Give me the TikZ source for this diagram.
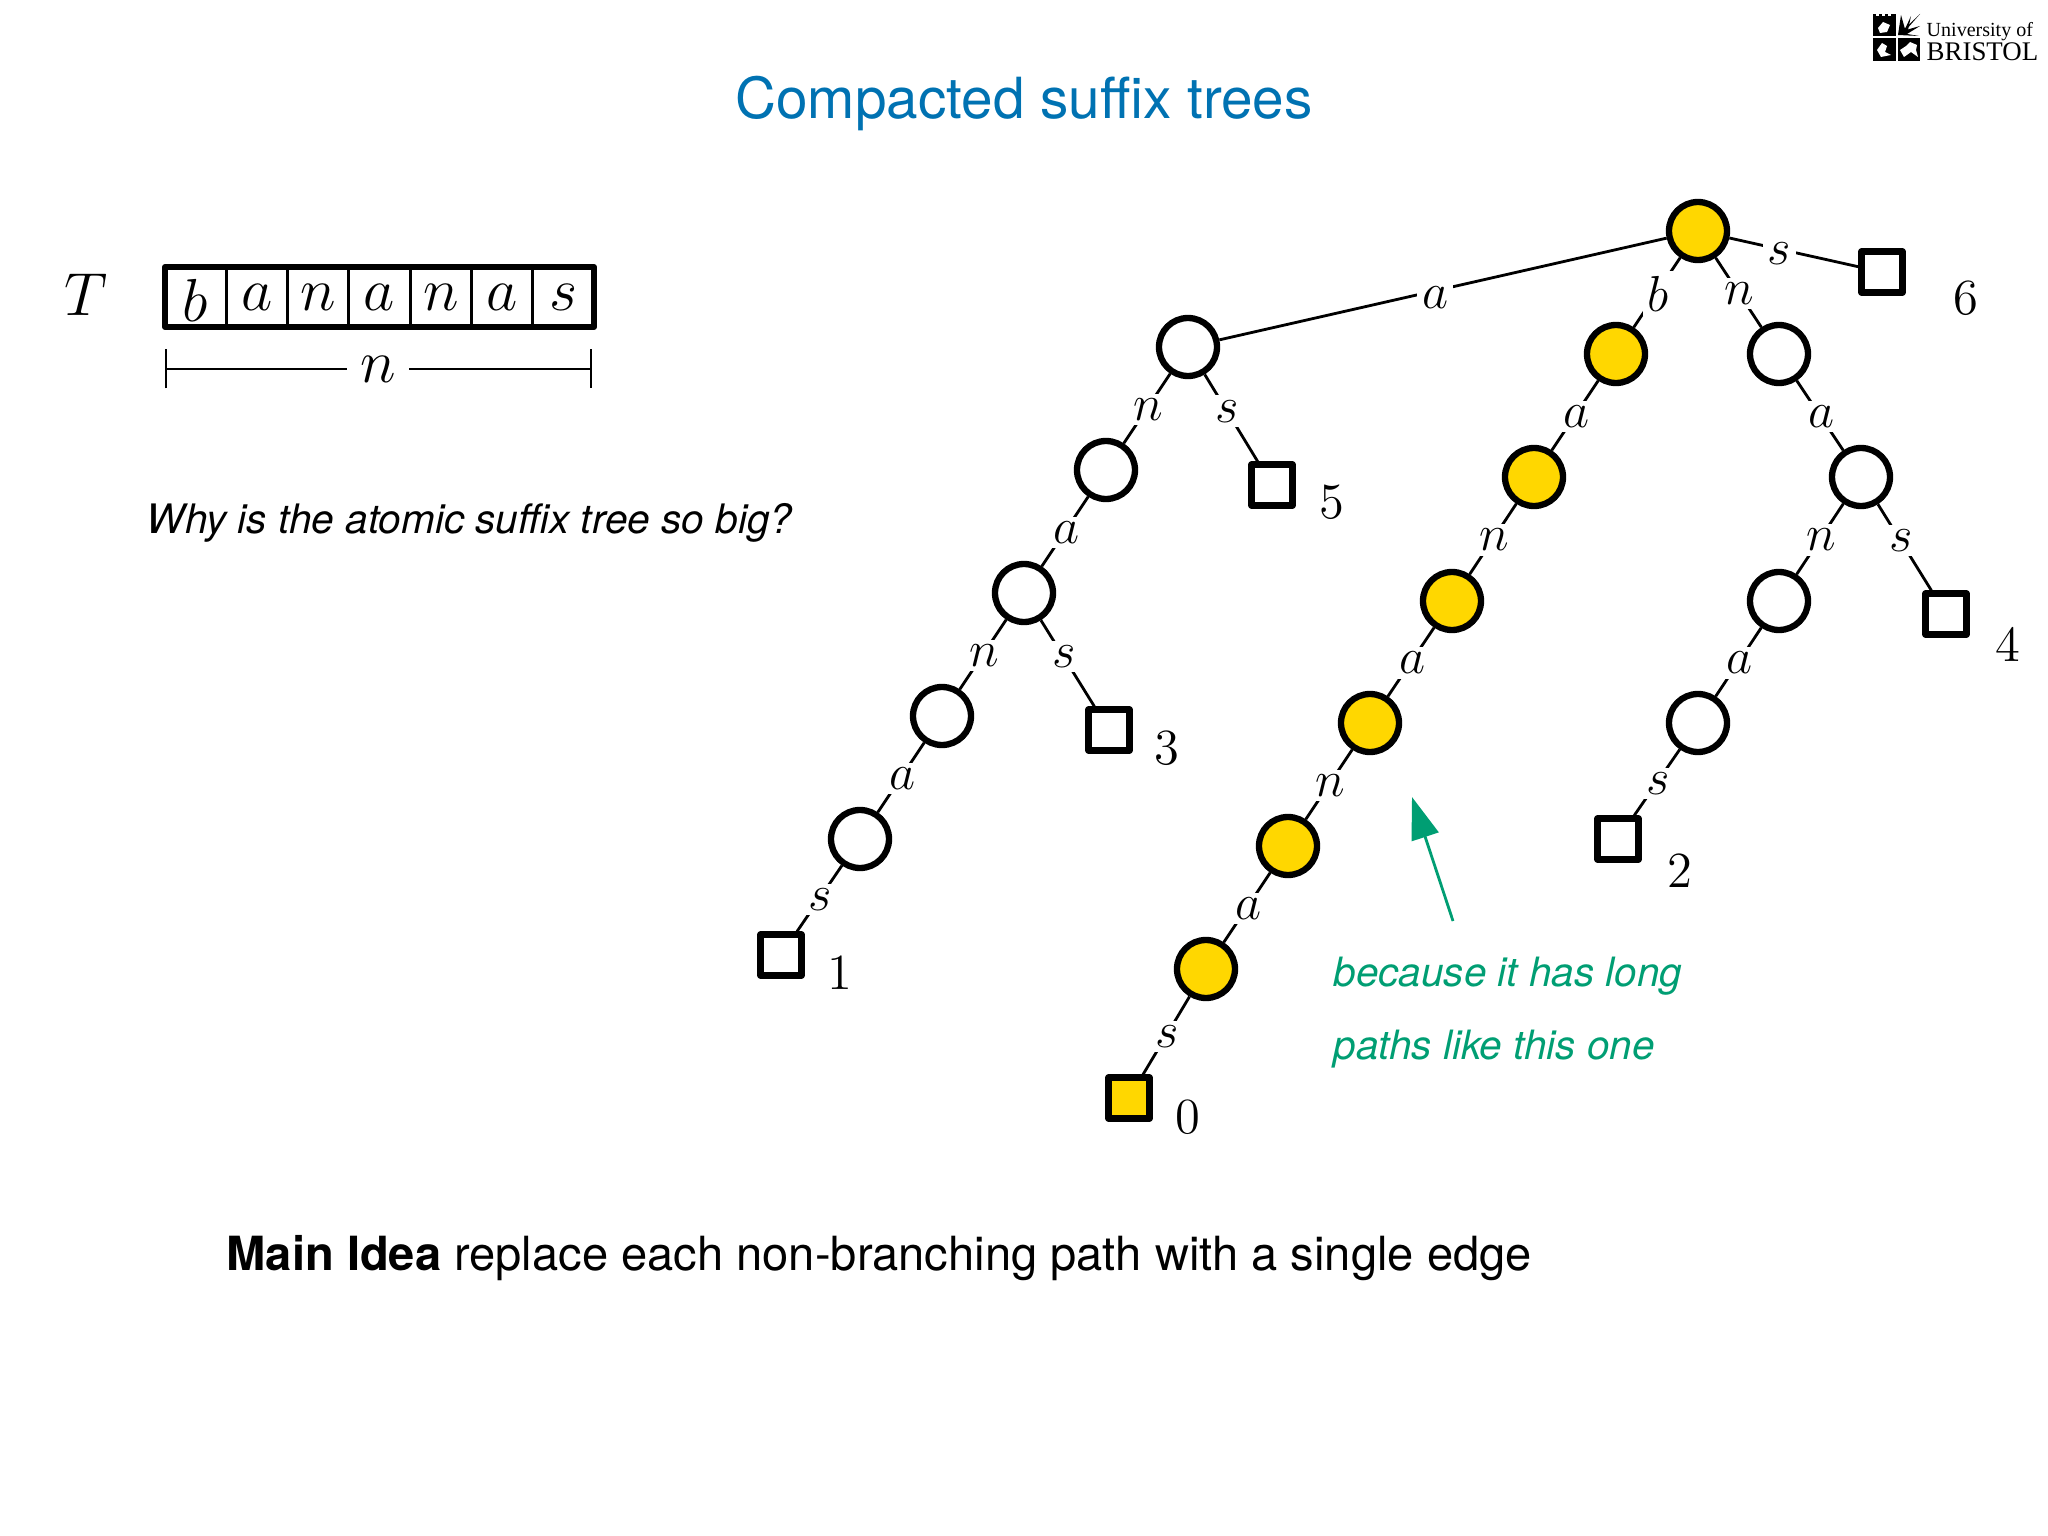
\documentclass[tikz,border=0pt]{standalone}
\usepackage{xcolor}
\usepackage{fontspec}
\setmainfont{TeX Gyre Heros}
\newfontfamily\logofont{Liberation Serif}
\usetikzlibrary{arrows.meta}

\definecolor{titleblue}{RGB}{0,114,178}
\definecolor{notegreen}{RGB}{0,158,115}
\definecolor{pathyellow}{RGB}{255,215,0}

\tikzset{
    inner/.style={circle, draw=black, line width=1.8pt, fill=white, minimum size=0.58cm, inner sep=0pt},
    innerhot/.style={inner, fill=pathyellow},
    leaf/.style={rectangle, draw=black, line width=1.75pt, line join=round, fill=white, minimum size=0.41cm, inner sep=0pt},
    leafhot/.style={leaf, fill=pathyellow},
    edge/.style={line width=0.8pt, black},
    edgelabel/.style={midway, fill=white, inner sep=1.4pt, xshift=0.3pt, yshift=-0.3pt, font=\fontsize{15}{17}\selectfont},
    number/.style={font=\fontsize{14.4}{16}\selectfont},
    letter/.style={font=\fontsize{17}{19}\selectfont, inner sep=0pt}
}

\begin{document}
\begin{tikzpicture}[scale=1.0]
    \useasboundingbox (0,0) rectangle (20.48,-15.36);

    % Title and logo
    \node[anchor=base, text=titleblue, font=\fontsize{16.13}{20}\selectfont] (title) at (10.24,-1.19) {Compacted suffix trees};
    \fill[black] (18.73,-0.14) rectangle (19.20,-0.61);
    \fill[white] (18.975,-0.14) rectangle (19.20,-0.36);
    \fill[white] (18.955,-0.14) rectangle (18.975,-0.61);
    \fill[white] (18.73,-0.365) rectangle (19.20,-0.385);
    % top left: towers and a small keep
    \foreach \x in {18.76,18.82,18.88} {
        \fill[white] (\x,-0.14) rectangle (\x+0.025,-0.16);
    }
    \fill[white] (18.78,-0.28) -- (18.83,-0.22) -- (18.90,-0.25) -- (18.87,-0.32) -- (18.80,-0.33) -- cycle;
    % top right: sun rays
    \fill[black] (18.98,-0.35) -- (19.20,-0.14) -- (19.06,-0.30) -- (19.20,-0.26) -- (19.07,-0.34) -- (19.19,-0.36) -- cycle;
    \fill[black] (18.98,-0.35) -- (19.01,-0.15) -- (19.05,-0.29) -- (19.11,-0.16) -- (19.08,-0.30) -- cycle;
    % bottom left: ship
    \fill[white] (18.77,-0.50) -- (18.82,-0.43) -- (18.87,-0.46) -- (18.85,-0.52) -- (18.91,-0.55) -- (18.81,-0.57) -- cycle;
    % bottom right: horse
    \fill[white] (19.00,-0.50) -- (19.06,-0.46) -- (19.10,-0.42) -- (19.17,-0.45) -- (19.16,-0.50) -- (19.18,-0.57) -- (19.11,-0.52) -- (19.04,-0.57) -- cycle;
    \node[anchor=base west, inner sep=0pt, font=\logofont\fontsize{5.7}{7}\selectfont] (logotop) at (19.26,-0.37) {University of};
    \node[anchor=base west, inner sep=0pt, font=\logofont\fontsize{7.65}{9}\selectfont] (logobottom) at (19.26,-0.61) {BRISTOL};

    % Text T as an array of letters
    \node[number] (tname) at (0.86,-2.95) {\fontsize{16}{18}\selectfont$T$};
    \draw[line width=1.7pt, line join=round] (1.65,-2.67) rectangle (5.94,-3.27);
    \foreach \x in {2.263,2.876,3.489,4.102,4.715,5.328} {
        \draw[line width=0.8pt] (\x,-2.67) -- (\x,-3.27);
    }
    \node[letter] (cell0) at (1.955,-3.00) {$b$};
    \node[letter] (cell1) at (2.57,-2.97) {$a$};
    \node[letter] (cell2) at (3.183,-2.97) {$n$};
    \node[letter] (cell3) at (3.796,-2.97) {$a$};
    \node[letter] (cell4) at (4.409,-2.97) {$n$};
    \node[letter] (cell5) at (5.022,-2.97) {$a$};
    \node[letter] (cell6) at (5.634,-2.97) {$s$};

    % Length of T
    \coordinate (lenleft) at (1.645,-3.69);
    \coordinate (lenright) at (5.92,-3.69);
    \draw[line width=0.7pt, {Bar[width=3.9mm]}-{Bar[width=3.9mm]}] (lenleft) -- node[midway, fill=white, inner sep=3.8pt, font=\fontsize{17}{19}\selectfont] (lenname) {$n$} (lenright);

    % Text on the left
    \node[anchor=base west, inner sep=0pt, font=\fontsize{11.55}{14}\itshape] (why) at (1.46,-5.33) {Why is the atomic suffix tree so big?};
    \node[anchor=base west, inner sep=0pt, font=\fontsize{13.4}{16}\selectfont] (idea) at (2.26,-12.70) {\textbf{Main Idea} replace each non-branching path with a single edge};

    % Root
    \node[innerhot] (root) at (16.98,-2.31) {};

    % Branch a
    \node[inner] (a) at (11.88,-3.47) {};
    \node[inner] (an) at (11.06,-4.70) {};
    \node[inner] (ana) at (10.24,-5.93) {};
    \node[inner] (anan) at (9.42,-7.16) {};
    \node[inner] (anana) at (8.60,-8.39) {};
    \node[leaf] (leafone) at (7.81,-9.55) {};
    \node[leaf] (leaffive) at (12.72,-4.85) {};
    \node[leaf] (leafthree) at (11.09,-7.30) {};

    % Branch b (the long path)
    \node[innerhot] (b) at (16.16,-3.54) {};
    \node[innerhot] (ba) at (15.34,-4.77) {};
    \node[innerhot] (ban) at (14.52,-6.01) {};
    \node[innerhot] (bana) at (13.70,-7.23) {};
    \node[innerhot] (banan) at (12.88,-8.46) {};
    \node[innerhot] (banana) at (12.06,-9.69) {};
    \node[leafhot] (leafzero) at (11.29,-10.98) {};

    % Branch n
    \node[inner] (n) at (17.79,-3.54) {};
    \node[inner] (na) at (18.61,-4.77) {};
    \node[inner] (nan) at (17.79,-6.01) {};
    \node[inner] (nana) at (16.98,-7.23) {};
    \node[leaf] (leaftwo) at (16.18,-8.39) {};
    \node[leaf] (leaffour) at (19.46,-6.14) {};

    % Branch s
    \node[leaf] (leafsix) at (18.82,-2.72) {};

    % Edges
    \draw[edge] (root) -- node[edgelabel, pos=0.52, yshift=-1.5pt] (la) {$a$} (a);
    \draw[edge] (a) -- node[edgelabel] (lan) {$n$} (an);
    \draw[edge] (a) -- node[edgelabel, pos=0.41] (las) {$s$} (leaffive);
    \draw[edge] (an) -- node[edgelabel] (lana) {$a$} (ana);
    \draw[edge] (ana) -- node[edgelabel] (lanan) {$n$} (anan);
    \draw[edge] (ana) -- node[edgelabel, pos=0.41] (lanas) {$s$} (leafthree);
    \draw[edge] (anan) -- node[edgelabel] (lanana) {$a$} (anana);
    \draw[edge] (anana) -- node[edgelabel] (lananas) {$s$} (leafone);

    \draw[edge] (root) -- node[edgelabel] (lb) {$b$} (b);
    \draw[edge] (b) -- node[edgelabel] (lba) {$a$} (ba);
    \draw[edge] (ba) -- node[edgelabel] (lban) {$n$} (ban);
    \draw[edge] (ban) -- node[edgelabel] (lbana) {$a$} (bana);
    \draw[edge] (bana) -- node[edgelabel] (lbanan) {$n$} (banan);
    \draw[edge] (banan) -- node[edgelabel] (lbanana) {$a$} (banana);
    \draw[edge] (banana) -- node[edgelabel] (lbananas) {$s$} (leafzero);

    \draw[edge] (root) -- node[edgelabel] (ln) {$n$} (n);
    \draw[edge] (n) -- node[edgelabel] (lna) {$a$} (na);
    \draw[edge] (na) -- node[edgelabel] (lnan) {$n$} (nan);
    \draw[edge] (na) -- node[edgelabel, pos=0.41] (lnas) {$s$} (leaffour);
    \draw[edge] (nan) -- node[edgelabel] (lnana) {$a$} (nana);
    \draw[edge] (nana) -- node[edgelabel] (lnanas) {$s$} (leaftwo);

    \draw[edge] (root) -- node[edgelabel, pos=0.38, yshift=-1pt] (ls) {$s$} (leafsix);

    % Suffix numbers
    \node[number] (numsix) at (19.66,-2.98) {$6$};
    \node[number] (numfive) at (13.32,-5.02) {$5$};
    \node[number] (numthree) at (11.67,-7.48) {$3$};
    \node[number] (numone) at (8.40,-9.73) {$1$};
    \node[number] (numzero) at (11.88,-11.17) {$0$};
    \node[number] (numtwo) at (16.80,-8.71) {$2$};
    \node[number] (numfour) at (20.08,-6.45) {$4$};

    % Green note
    \coordinate (notetail) at (14.53,-9.21);
    \coordinate (notetip) at (14.12,-7.97);
    \draw[line width=0.8pt, notegreen, -{Triangle[length=4.2mm,width=2.8mm]}] (notetail) -- (notetip);
    \node[anchor=base west, inner sep=0pt, text=notegreen, font=\fontsize{11.5}{14}\itshape] (notefirst) at (13.33,-9.86) {because it has long};
    \node[anchor=base west, inner sep=0pt, text=notegreen, font=\fontsize{11.5}{14}\itshape] (notesecond) at (13.33,-10.59) {paths like this one};
\end{tikzpicture}
\end{document}
